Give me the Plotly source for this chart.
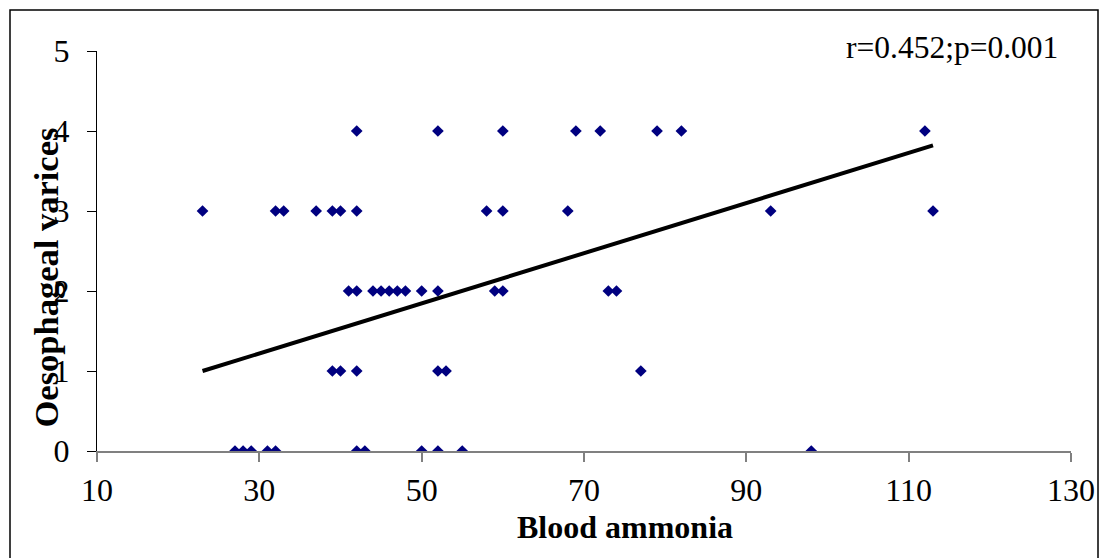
import plotly.graph_objects as go

# Blood ammonia (x) and oesophageal varices grade (y)
ammonia_g4 = [42, 52, 60, 69, 72, 79, 82, 112]
ammonia_g3 = [23, 32, 33, 37, 39, 40, 42, 58, 60, 68, 93, 113]
ammonia_g2 = [41, 42, 44, 45, 46, 47, 48, 50, 52, 59, 60, 73, 74]
ammonia_g1 = [39, 40, 42, 52, 53, 77]
ammonia_g0 = [27, 28, 29, 31, 32, 42, 43, 50, 52, 55, 98]

# linear trend line as drawn in the source (end points)
trend_x = [23, 113]
trend_y = [1.0, 3.82]

x_ticks = [10, 30, 50, 70, 90, 110, 130]
y_ticks = [0, 1, 2, 3, 4, 5]
stat_label = "r=0.452;p=0.001"
x_title = "Blood ammonia"
y_title = "Oesophageal varices"

xs = ammonia_g4 + ammonia_g3 + ammonia_g2 + ammonia_g1 + ammonia_g0
ys = ([4] * len(ammonia_g4) + [3] * len(ammonia_g3) + [2] * len(ammonia_g2)
      + [1] * len(ammonia_g1) + [0] * len(ammonia_g0))

W, H = 1099, 558
# plot area in window pixels: x 97..1071, y 51..451
L, T = 97, 51
R = W - 1071
B = H - 451
pw, ph = W - L - R, H - T - B

def px(xp):  # window pixel -> paper x
    return (xp - L) / pw

def py(yp):  # window pixel -> paper y
    return (H - B - yp) / ph

FONT = "Liberation Serif, Times New Roman, serif"

fig = go.Figure()
fig.add_trace(go.Scatter(
    x=xs, y=ys, mode="markers",
    marker=dict(symbol="diamond", size=9, color="#000080", line=dict(width=0)),
    showlegend=False, hoverinfo="x+y",
))
fig.add_trace(go.Scatter(
    x=trend_x, y=trend_y, mode="lines",
    line=dict(color="black", width=4),
    showlegend=False, hoverinfo="skip",
))

fig.update_layout(
    template="none",
    width=W, height=H,
    margin=dict(l=L, r=R, t=T, b=B, pad=0, autoexpand=False),
    paper_bgcolor="white", plot_bgcolor="white",
    font=dict(family=FONT, color="black", size=32),
    xaxis=dict(
        range=[10, 130], tickvals=x_ticks, ticktext=[str(v) for v in x_ticks],
        showgrid=False, zeroline=False, showline=True, linecolor="#808080", linewidth=2,
        ticks="outside", ticklen=9, tickcolor="#808080", tickwidth=1.5,
        tickfont=dict(family=FONT, size=32, color="black"),
        automargin=False, ticklabelstandoff=1,
    ),
    yaxis=dict(
        range=[0, 5], tickvals=y_ticks, ticktext=[str(v) for v in y_ticks],
        showgrid=False, zeroline=False, showline=True, linecolor="black", linewidth=1,
        ticks="outside", ticklen=9, tickcolor="black", tickwidth=1,
        tickfont=dict(family=FONT, size=32, color="black"),
        automargin=False, ticklabelstandoff=11,
    ),
    shapes=[dict(
        type="rect", xref="paper", yref="paper",
        x0=px(10), x1=px(1098), y0=py(575), y1=py(10),
        line=dict(color="black", width=1.5), fillcolor="rgba(0,0,0,0)", layer="below",
    )],
    annotations=[
        dict(text=stat_label, xref="paper", yref="paper", x=px(844), y=py(47),
             xanchor="left", yanchor="middle", showarrow=False,
             font=dict(family=FONT, size=31.5, color="black")),
        dict(text="<b>" + x_title + "</b>", xref="paper", yref="paper", x=px(625), y=py(527),
             xanchor="center", yanchor="middle", showarrow=False,
             font=dict(family=FONT, size=32, color="black")),
        dict(text="<b>" + y_title + "</b>", xref="paper", yref="paper", x=px(45.5), y=py(278),
             xanchor="center", yanchor="middle", showarrow=False, textangle=-90,
             font=dict(family=FONT, size=34.5, color="black")),
    ],
)

fig.write_html(
    "out.html",
    config={"displayModeBar": False},
    post_script="document.body.style.margin='0';document.body.style.overflow='hidden';",
)
